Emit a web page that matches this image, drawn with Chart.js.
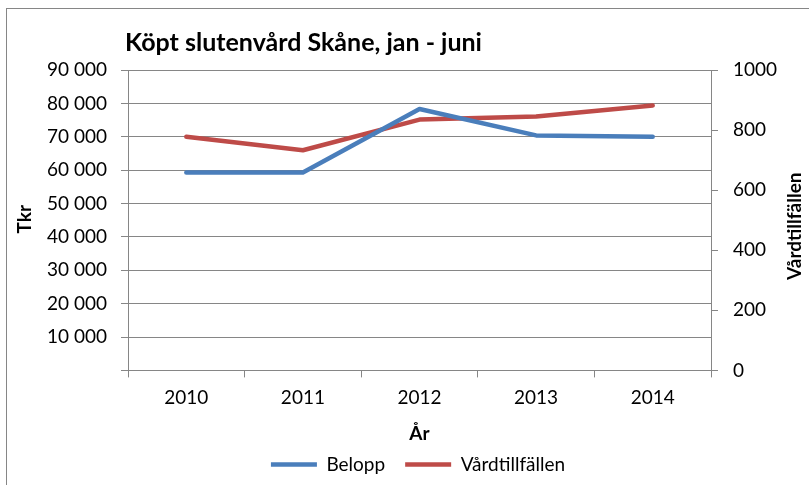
<!DOCTYPE html>
<html>
<head>
<meta charset="utf-8">
<script src="https://cdn.jsdelivr.net/npm/chart.js@4"></script>
<style>
  html, body { margin: 0; padding: 0; background: #fff; overflow: hidden; }
  #wrap { position: relative; width: 809px; height: 485px; }
  #frame { position: absolute; left: 6px; top: 8px; width: 900px; height: 600px; border: 1px solid #868686; }
  #chart { position: absolute; left: 0; top: 0; }
</style>
</head>
<body>
<div id="wrap">
  <div id="frame"></div>
  <canvas id="chart" width="809" height="485"></canvas>
</div>
<script>
// Köpt slutenvård Skåne, jan - juni
const ar = ['2010', '2011', '2012', '2013', '2014'];
const belopp = [59300, 59300, 78300, 70400, 70000];
const vardtillfallen = [778, 733, 835, 845, 882];
const tkrTicks = [0, 10000, 20000, 30000, 40000, 50000, 60000, 70000, 80000, 90000];
const vtTicks = [0, 200, 400, 600, 800, 1000];

const FONT = 'Lato';
const GRID = '#868686';

function formatTkr(v) {
    if (v === 0) return '';
    return String(v).replace(/\B(?=(\d{3})+(?!\d))/g, ' ');
}

// rubrik och axeltitlar ritas själva (höger titel ska läsas nerifrån och upp)
const titlarPlugin = {
    id: 'titlar',
    afterDraw(chart) {
        const ctx = chart.ctx;
        const area = chart.chartArea;
        const midY = (area.top + area.bottom) / 2;
        ctx.save();
        ctx.fillStyle = '#000';
        ctx.font = 'bold 25px ' + FONT;
        ctx.textBaseline = 'alphabetic';
        ctx.textAlign = 'left';
        ctx.fillText('Köpt slutenvård Skåne, jan - juni', area.left - 3, 51);

        ctx.font = 'bold 19px ' + FONT;
        ctx.textAlign = 'center';
        ctx.textBaseline = 'middle';
        ctx.save();
        ctx.translate(25, midY - 1);
        ctx.rotate(-Math.PI / 2);
        ctx.fillText('Tkr', 0, 0);
        ctx.restore();

        ctx.save();
        ctx.translate(795, midY + 6);
        ctx.rotate(-Math.PI / 2);
        ctx.fillText('Vårdtillfällen', 0, 0);
        ctx.restore();
        ctx.restore();
    }
};

const ctx = document.getElementById('chart').getContext('2d');
new Chart(ctx, {
    type: 'line',
    data: {
        labels: ar,
        datasets: [{
            label: 'Belopp',
            data: belopp,
            yAxisID: 'y',
            borderColor: '#4A7EBB',
            backgroundColor: '#4A7EBB',
            borderWidth: 4.5,
            borderCapStyle: 'round',
            borderJoinStyle: 'round',
            pointRadius: 0,
            tension: 0
        }, {
            label: 'Vårdtillfällen',
            data: vardtillfallen,
            yAxisID: 'y1',
            borderColor: '#BE4B48',
            backgroundColor: '#BE4B48',
            borderWidth: 4.5,
            borderCapStyle: 'round',
            borderJoinStyle: 'round',
            pointRadius: 0,
            tension: 0
        }]
    },
    options: {
        responsive: false,
        animation: false,
        layout: { padding: { top: 70, left: 27, right: 0, bottom: 1 } },
        plugins: {
            title: { display: false },
            tooltip: { enabled: false },
            legend: {
                position: 'bottom',
                labels: {
                    color: '#000',
                    font: { family: FONT, size: 19 },
                    usePointStyle: true,
                    pointStyle: 'line',
                    pointStyleWidth: 46,
                    padding: 20
                }
            }
        },
        scales: {
            x: {
                offset: true,
                grid: { display: true, drawOnChartArea: false, offset: true, color: GRID, tickLength: 7 },
                border: { color: GRID },
                ticks: { color: '#000', font: { family: FONT, size: 19 }, padding: 9, maxRotation: 0 },
                title: {
                    display: true, text: 'År', color: '#000',
                    font: { family: FONT, size: 19, weight: 'bold' },
                    padding: { top: 4, bottom: -10 }
                }
            },
            y: {
                position: 'left',
                min: 0,
                max: 90000,
                afterBuildTicks: s => { s.ticks = tkrTicks.map(v => ({ value: v })); },
                afterFit: s => { s.width = 101; },
                grid: { color: GRID, tickLength: 7 },
                border: { color: GRID },
                ticks: { color: '#000', font: { family: FONT, size: 19 }, padding: 14, callback: v => formatTkr(v) }
            },
            y1: {
                position: 'right',
                min: 0,
                max: 1000,
                afterBuildTicks: s => { s.ticks = vtTicks.map(v => ({ value: v })); },
                afterFit: s => { s.width = 98; },
                grid: { drawOnChartArea: false, color: GRID, tickLength: 7 },
                border: { color: GRID },
                ticks: { color: '#000', font: { family: FONT, size: 19 }, padding: 15, callback: v => String(v) }
            }
        }
    },
    plugins: [titlarPlugin]
});
</script>
</body>
</html>
